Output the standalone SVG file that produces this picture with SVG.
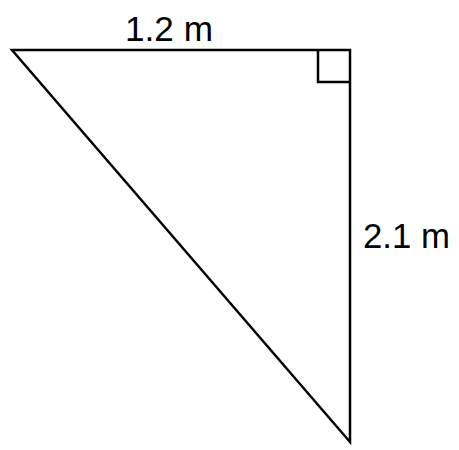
<svg xmlns="http://www.w3.org/2000/svg" width="459" height="450" viewBox="0 0 459 450">
<style>
.edge{fill:none;stroke:#000;stroke-width:2.5;stroke-linejoin:miter}
.lbl{font-family:"Liberation Sans",Arial,sans-serif;font-size:35px;fill:#000}
</style>
<rect width="459" height="450" fill="#fff"/>
<g id="triangle">
<polygon class="edge" points="12,50 350,50 350,442"/>
<polyline class="edge" points="318,50 318,82 350,82"/>
</g>
<g id="labels">
<text class="lbl" x="125" y="41" textLength="88" lengthAdjust="spacingAndGlyphs">1.2 m</text>
<text class="lbl" x="363" y="248" textLength="87" lengthAdjust="spacingAndGlyphs">2.1 m</text>
</g>
</svg>
